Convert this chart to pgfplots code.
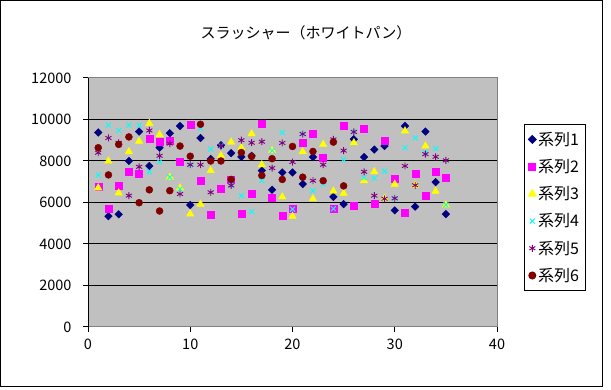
\documentclass[border=0pt]{standalone}
\usepackage{fontspec}
\setmainfont{Noto Sans CJK JP}
\usepackage{pgfplots}
\usepackage{pgfplotstable}
\pgfplotsset{compat=1.18}
\definecolor{sA}{HTML}{000080}
\definecolor{sB}{HTML}{FF00FF}
\definecolor{sC}{HTML}{FFFF00}
\definecolor{sD}{HTML}{00FFFF}
\definecolor{sE}{HTML}{800080}
\definecolor{sF}{HTML}{800000}
\definecolor{plotgray}{HTML}{C0C0C0}
\definecolor{boxgray}{HTML}{808080}
\pgfplotstableread{
x y
1 9375
2 5340
3 5430
4 8000
5 9420
6 7760
7 8640
8 9340
9 9690
10 5880
11 9110
12 8100
13 8760
14 8380
15 8200
16 8250
17 7540
18 6610
19 7450
20 7450
21 6890
22 8190
23 8140
24 6270
25 5920
26 9050
27 8190
28 8550
29 8720
30 5620
31 9690
32 5800
33 9420
34 6980
35 5440
}\tA
\pgfplotstableread{
x y
1 6775
2 5680
3 6820
4 7480
5 7400
6 9060
7 8920
8 9000
9 7950
10 9740
11 7050
12 5390
13 6670
14 7110
15 5440
16 6410
17 9780
18 6250
19 5370
20 5680
21 8900
22 9300
23 8140
24 5700
25 9700
26 5830
27 9550
28 5950
29 9000
30 7170
31 5500
32 7400
33 6310
34 7500
35 7180
}\tB
\pgfplotstableread{
x y
1 6700
2 8000
3 6460
4 8450
5 8950
6 9810
7 9270
8 7220
9 6700
10 5450
11 5920
12 7540
13 8260
14 8910
15 8640
16 9310
17 7820
18 8500
19 6270
20 5340
21 8450
22 6180
23 8800
24 6550
25 6440
26 8880
27 7050
28 7480
29 6200
30 6880
31 9450
32 6830
33 8720
34 6540
35 5880
}\tC
\pgfplotstableread{
x y
1 7325
2 9730
3 9470
4 9730
5 9730
6 7480
7 7950
8 7220
9 6650
10 7820
11 9580
12 8570
13 8730
14 6820
15 6330
16 5560
17 7060
18 8500
19 9370
20 5680
21 9300
22 6570
23 6890
24 5700
25 8070
26 9400
27 7200
28 7170
29 7510
30 6200
31 8640
32 9110
33 8400
34 8590
35 5880
}\tD
\pgfplotstableread{
x y
1 8400
2 9110
3 8875
4 6330
5 7720
6 9470
7 8250
8 8840
9 6410
10 7820
11 7820
12 6490
13 8730
14 6820
15 9000
16 8880
17 8930
18 7660
19 8870
20 7950
21 9300
22 7050
23 7820
24 9040
25 8500
26 9400
27 7480
28 6330
29 6180
30 6200
31 7760
32 6830
33 8330
34 8200
35 8030
}\tE
\pgfplotstableread{
x y
1 8640
2 7330
3 8800
4 9160
5 5990
6 6610
7 5590
8 6570
9 8720
10 8230
11 9770
12 8000
13 8000
14 7110
15 8410
16 8220
17 7300
18 8110
19 7110
20 8700
21 7220
22 8460
23 7050
24 8910
25 6800
}\tF
\begin{document}
\begin{tikzpicture}[x=1pt,y=1pt]
\useasboundingbox (0,0) rectangle (611,390);
\draw[black, line width=1pt] (0.5,3) rectangle (602,389.5);
\node[font=\fontsize{15}{18}\selectfont] at (306,357) {スラッシャー（ホワイトパン）};
\begin{axis}[
  at={(88pt,63pt)}, anchor=south west,
  width=409pt, height=249pt, scale only axis,
  xmin=0, xmax=40, ymin=0, ymax=12000,
  xtick={0,10,20,30,40}, ytick={0,2000,4000,6000,8000,10000,12000},
  axis background/.style={fill=plotgray},
  axis line style={draw=boxgray, line width=1pt},
  ymajorgrids, grid style={black, line width=1pt},
  tick align=outside, xtick pos=left, ytick pos=left,
  major tick length=5pt, tick style={black, line width=1pt},
  scaled y ticks=false,
  /pgf/number format/set thousands separator={},
  /pgf/number format/assume math mode=true,
  tick label style={font=\fontsize{14.5}{17}\selectfont},
  yticklabel style={xshift=-8pt},
  xticklabel style={yshift=-3pt},
  legend style={at={(1.066,0.817)}, anchor=north west, draw=black, line width=1pt, fill=white,
    font=\fontsize{16}{19}\selectfont, row sep=8.5pt, inner xsep=4pt, inner ysep=6pt},
  legend cell align=left,
]
\addplot[only marks, mark=square*, mark size=2.7pt, color=sA, mark options={rotate=45, solid}] table {\tA};
\addlegendentry{系列1}
\addplot[only marks, mark=square*, mark size=3.5pt, color=sB] table {\tB};
\addlegendentry{系列2}
\addplot[only marks, mark=triangle*, mark size=4.3pt, color=sC] table {\tC};
\addlegendentry{系列3}
\addplot[only marks, mark=x, mark size=3.5pt, color=sD, mark options={line width=0.9pt}] table {\tD};
\addlegendentry{系列4}
\addplot[only marks, mark=asterisk, mark size=3.5pt, color=sE, mark options={line width=0.9pt}] table {\tE};
\addlegendentry{系列5}
\addplot[only marks, mark=*, mark size=3.5pt, color=sF] table {\tF};
\addlegendentry{系列6}
\draw[black, line width=1pt] (rel axis cs:0,0) -- (rel axis cs:0,1);
\end{axis}
\end{tikzpicture}
\end{document}
